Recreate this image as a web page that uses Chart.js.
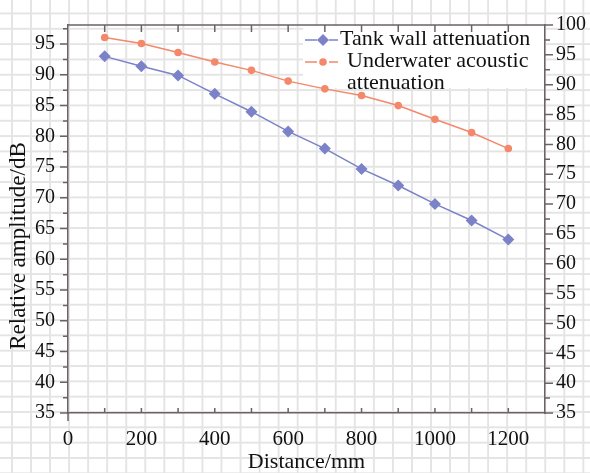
<!DOCTYPE html>
<html lang="en">
<head>
  <meta charset="UTF-8">
  <title>Attenuation vs distance</title>
  <script src="https://cdn.jsdelivr.net/npm/chart.js"></script>
  <style>
    html, body {
      margin: 0;
      padding: 0;
      background-color: #fff;
    }
    body {
      width: 590px;
      height: 473px;
      overflow: hidden;
      /* graph-paper backdrop behind the whole figure */
      background-image:
        linear-gradient(to right, #e4e4e4 2px, transparent 2px),
        linear-gradient(to bottom, #e4e4e4 2px, transparent 2px);
      background-size: 19.05px 15.34px;
      background-position: 11px 12.5px;
    }
    canvas { display: block; }
  </style>
</head>
<body>
  <canvas id="chart" width="590" height="473"></canvas>

  <script>
    const distance = [100, 200, 300, 400, 500, 600, 700, 800, 900, 1000, 1100, 1200];
    const tankWall = [93.0, 91.4, 89.9, 86.9, 84.0, 80.8, 78.0, 74.7, 72.0, 69.0, 66.3, 63.2];
    const underwater = [97.9, 96.9, 95.4, 93.8, 92.4, 90.6, 89.3, 88.2, 86.5, 84.2, 82.0, 79.3];

    const xTicks = [0, 200, 400, 600, 800, 1000, 1200];
    const xMinor = [100, 200, 300, 400, 500, 600, 700, 800, 900, 1000, 1100, 1200];
    const yLeftTicks = [35, 40, 45, 50, 55, 60, 65, 70, 75, 80, 85, 90, 95];
    const yRightTicks = [35, 40, 45, 50, 55, 60, 65, 70, 75, 80, 85, 90, 95, 100];

    const AXIS = '#6b6363';
    const FONT = 'Liberation Serif';
    const BLUE = '#7b82c8';
    const ORANGE = '#f4886b';

    // tick marks drawn by hand: inward on top/bottom, outward on the sides
    const axisTicks = {
      id: 'axisTicks',
      afterDraw(chart) {
        const { ctx, chartArea: a, scales } = chart;
        const x = scales.x, yl = scales.y, yr = scales.y2;
        ctx.save();
        ctx.strokeStyle = AXIS;
        ctx.lineWidth = 1.5;
        ctx.beginPath();
        // top frame line
        ctx.moveTo(a.left, a.top);
        ctx.lineTo(a.right, a.top);
        xMinor.forEach(v => {
          const px = x.getPixelForValue(v);
          ctx.moveTo(px, a.bottom);
          ctx.lineTo(px, a.bottom - 5);
          ctx.moveTo(px, a.top);
          ctx.lineTo(px, a.top + 7);
        });
        // corner overhang
        ctx.moveTo(a.left, a.bottom);
        ctx.lineTo(a.left, a.bottom + 8);
        yLeftTicks.forEach(v => {
          const py = yl.getPixelForValue(v);
          ctx.moveTo(a.left, py);
          ctx.lineTo(a.left - 8, py);
          const pm = yl.getPixelForValue(v + 2.5);
          ctx.moveTo(a.left, pm);
          ctx.lineTo(a.left - 5, pm);
        });
        yRightTicks.forEach(v => {
          const py = yr.getPixelForValue(v);
          ctx.moveTo(a.right, py);
          ctx.lineTo(a.right + 8, py);
          if (v < 100) {
            const pm = yr.getPixelForValue(v + 2.5);
            ctx.moveTo(a.right, pm);
            ctx.lineTo(a.right + 5, pm);
          }
        });
        ctx.stroke();
        ctx.restore();
      }
    };

    // left axis title sits a little below the axis middle in the original
    const yTitle = {
      id: 'yTitle',
      afterDraw(chart, args, opts) {
        const { ctx } = chart;
        ctx.save();
        ctx.translate(opts.x, opts.y);
        ctx.rotate(-Math.PI / 2);
        ctx.font = opts.size + 'px ' + FONT;
        ctx.fillStyle = '#111';
        ctx.textAlign = 'center';
        ctx.textBaseline = 'middle';
        ctx.fillText(opts.text, 0, 0);
        ctx.restore();
      }
    };

    // boxed legend in the upper right of the plot, label wraps to fit
    const boxLegend = {
      id: 'boxLegend',
      beforeDatasetsDraw(chart, args, opts) {
        const { ctx, chartArea: a } = chart;
        ctx.save();
        ctx.fillStyle = '#fff';
        ctx.fillRect(opts.left, a.top + 1, a.right - opts.left - 1, opts.height);
        ctx.font = opts.fontSize + 'px ' + FONT;
        ctx.textBaseline = 'middle';
        let y = opts.top;
        chart.data.datasets.forEach((ds, i) => {
          const words = ds.label.split(' ');
          const lines = [];
          let cur = '';
          words.forEach(w => {
            const t = cur ? cur + ' ' + w : w;
            if (ctx.measureText(t).width > opts.maxWidth && cur) {
              lines.push(cur);
              cur = w;
            } else {
              cur = t;
            }
          });
          lines.push(cur);

          const mx = opts.sampleX + 18;
          ctx.strokeStyle = ds.borderColor;
          ctx.lineWidth = 1.5;
          ctx.beginPath();
          ctx.moveTo(opts.sampleX, y + 1);
          ctx.lineTo(mx - 6, y + 1);
          ctx.moveTo(mx + 6, y + 1);
          ctx.lineTo(opts.sampleX + 33, y + 1);
          ctx.stroke();
          ctx.fillStyle = ds.borderColor;
          ctx.beginPath();
          const r = ds.pointRadius;
          if (ds.pointStyle === 'rectRot') {
            ctx.moveTo(mx, y + 1 - r);
            ctx.lineTo(mx + r, y + 1);
            ctx.lineTo(mx, y + 1 + r);
            ctx.lineTo(mx - r, y + 1);
            ctx.closePath();
          } else {
            ctx.arc(mx, y + 1, r, 0, Math.PI * 2);
          }
          ctx.fill();

          ctx.fillStyle = '#111';
          lines.forEach((ln, k) => {
            ctx.fillText(ln, opts.textX + (i > 0 ? 7 : 0), y + k * opts.lineGap);
          });
          y += lines.length * opts.lineGap;
        });
        ctx.restore();
      }
    };

    const config = {
      type: 'line',
      data: {
        datasets: [{
          label: 'Tank wall attenuation',
          data: distance.map((d, i) => ({ x: d, y: tankWall[i] })),
          borderColor: BLUE,
          backgroundColor: BLUE,
          borderWidth: 1.5,
          pointStyle: 'rectRot',
          pointRadius: 6,
          pointBorderWidth: 0,
          yAxisID: 'y'
        }, {
          label: 'Underwater acoustic attenuation',
          data: distance.map((d, i) => ({ x: d, y: underwater[i] })),
          borderColor: ORANGE,
          backgroundColor: ORANGE,
          borderWidth: 1.5,
          pointStyle: 'circle',
          pointRadius: 3.8,
          pointBorderWidth: 0,
          yAxisID: 'y2'
        }]
      },
      options: {
        responsive: false,
        devicePixelRatio: 1,
        animation: false,
        layout: { padding: { top: 25, left: 0, right: 0, bottom: 0 } },
        plugins: {
          legend: { display: false },
          tooltip: { enabled: false },
          boxLegend: {
            left: 303, height: 62, top: 39, sampleX: 305, textX: 340,
            lineGap: 22, maxWidth: 200, fontSize: 22
          },
          yTitle: { text: 'Relative amplitude/dB', x: 19, y: 246, size: 23 }
        },
        scales: {
          x: {
            type: 'linear',
            min: 0,
            max: 1300,
            afterBuildTicks: s => { s.ticks = xTicks.map(v => ({ value: v })); },
            afterFit: s => { s.height = 60; },
            grid: { display: false, drawTicks: false },
            border: { display: true, color: AXIS, width: 1.5 },
            ticks: {
              color: '#111', font: { family: FONT, size: 21 }, padding: 14, maxRotation: 0,
              callback: v => String(v)
            },
            title: {
              display: true, text: 'Distance/mm', color: '#111',
              font: { family: FONT, size: 22, lineHeight: 1 }, padding: 0
            }
          },
          y: {
            position: 'left',
            min: 35,
            max: 98.1,
            afterBuildTicks: s => { s.ticks = yLeftTicks.map(v => ({ value: v })); },
            afterFit: s => { s.width = 68; },
            grid: { display: false, drawTicks: false },
            border: { display: true, color: AXIS, width: 1.5 },
            ticks: { color: '#111', font: { family: FONT, size: 20 }, padding: 13 }
          },
          y2: {
            position: 'right',
            min: 35,
            max: 100,
            afterBuildTicks: s => { s.ticks = yRightTicks.map(v => ({ value: v })); },
            afterFit: s => { s.width = 45; },
            grid: { display: false, drawTicks: false },
            border: { display: true, color: AXIS, width: 1.5 },
            ticks: { color: '#111', font: { family: FONT, size: 20 }, padding: 11 }
          }
        }
      },
      plugins: [axisTicks, boxLegend, yTitle]
    };

    new Chart(document.getElementById('chart'), config);
  </script>
</body>
</html>
